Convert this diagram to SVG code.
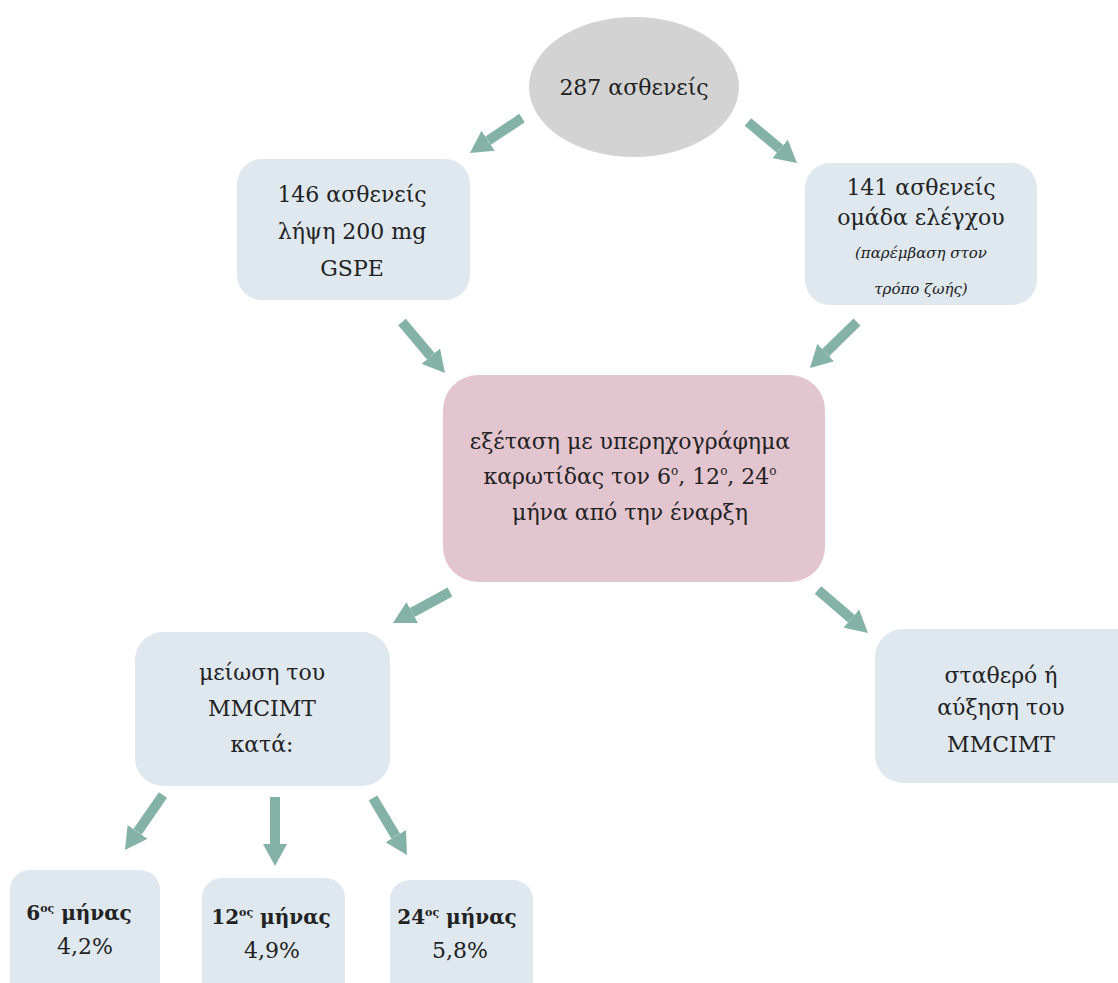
<svg xmlns="http://www.w3.org/2000/svg" width="1118" height="983" viewBox="0 0 1118 983">
<style>
.blue{fill:#dfe7ef}
.pink{fill:#e3c5d0}
.grey{fill:#d3d3d3}
text{font-family:"DejaVu Serif","Liberation Serif",serif;font-size:22px;fill:#222;text-anchor:middle}
.it{font-style:italic;font-size:15px}
.b{font-weight:bold;font-size:20px}
.arr{stroke:#84b2a7;stroke-width:10;fill:none;marker-end:url(#head)}
</style>
<defs>
<marker id="head" viewBox="0 0 22 24" markerUnits="userSpaceOnUse" markerWidth="22" markerHeight="24" refX="0" refY="12" orient="auto">
<path d="M0,0 L22,12 L0,24 z" fill="#84b2a7"/>
</marker>
</defs>
<g id="connectors">
<line class="arr" x1="522" y1="118" x2="488.2" y2="140.7"/>
<line class="arr" x1="748" y1="122" x2="780.1" y2="148.9"/>
<line class="arr" x1="402" y1="322" x2="430.8" y2="356.2"/>
<line class="arr" x1="857" y1="322" x2="825.7" y2="352.6"/>
<line class="arr" x1="450" y1="592" x2="412.3" y2="612.5"/>
<line class="arr" x1="818" y1="590" x2="851.3" y2="618.6"/>
<line class="arr" x1="163" y1="795" x2="137.5" y2="831.9"/>
<line class="arr" x1="275" y1="797" x2="275" y2="844"/>
<line class="arr" x1="373" y1="798" x2="395.7" y2="836.1"/>
</g>
<g id="n287">
<ellipse class="grey" cx="634" cy="87" rx="105" ry="70"/>
<text x="634" y="95">287 ασθενείς</text>
</g>
<g id="n146">
<rect class="blue" x="237" y="159" width="233" height="141" rx="25"/>
<text x="352" y="202">146 ασθενείς</text>
<text x="352" y="239">λήψη 200 mg</text>
<text x="352" y="276">GSPE</text>
</g>
<g id="n141">
<rect class="blue" x="805" y="163" width="232" height="142" rx="25"/>
<text x="921" y="195">141 ασθενείς</text>
<text x="921" y="225">ομάδα ελέγχου</text>
<text class="it" x="921" y="258">(παρέμβαση στον</text>
<text class="it" x="921" y="294">τρόπο ζωής)</text>
</g>
<g id="exam">
<rect class="pink" x="443" y="375" width="382" height="207" rx="35"/>
<text x="630" y="449">εξέταση με υπερηχογράφημα</text>
<text x="630" y="484">καρωτίδας τον 6<tspan font-size="12" dy="-9">ο</tspan><tspan dy="9">, 12</tspan><tspan font-size="12" dy="-9">ο</tspan><tspan dy="9">, 24</tspan><tspan font-size="12" dy="-9">ο</tspan></text>
<text x="630" y="520">μήνα από την έναρξη</text>
</g>
<g id="decrease">
<rect class="blue" x="135" y="632" width="255" height="154" rx="28"/>
<text x="262" y="680">μείωση του</text>
<text x="262" y="716">MMCIMT</text>
<text x="262" y="752">κατά:</text>
</g>
<g id="stable">
<rect class="blue" x="875" y="629" width="270" height="154" rx="28"/>
<text x="1001" y="683">σταθερό ή</text>
<text x="1001" y="715">αύξηση του</text>
<text x="1001" y="752">MMCIMT</text>
</g>
<g id="m6">
<rect class="blue" x="10" y="870" width="150" height="140" rx="20"/>
<text class="b" x="79" y="920">6<tspan font-size="11" dy="-8">ος</tspan><tspan dy="8"> μήνας</tspan></text>
<text x="85" y="954">4,2%</text>
</g>
<g id="m12">
<rect class="blue" x="202" y="878" width="143" height="140" rx="20"/>
<text class="b" x="271" y="924">12<tspan font-size="11" dy="-8">ος</tspan><tspan dy="8"> μήνας</tspan></text>
<text x="272" y="958">4,9%</text>
</g>
<g id="m24">
<rect class="blue" x="390" y="880" width="143" height="140" rx="20"/>
<text class="b" x="457" y="924">24<tspan font-size="11" dy="-8">ος</tspan><tspan dy="8"> μήνας</tspan></text>
<text x="460" y="958">5,8%</text>
</g>
</svg>
